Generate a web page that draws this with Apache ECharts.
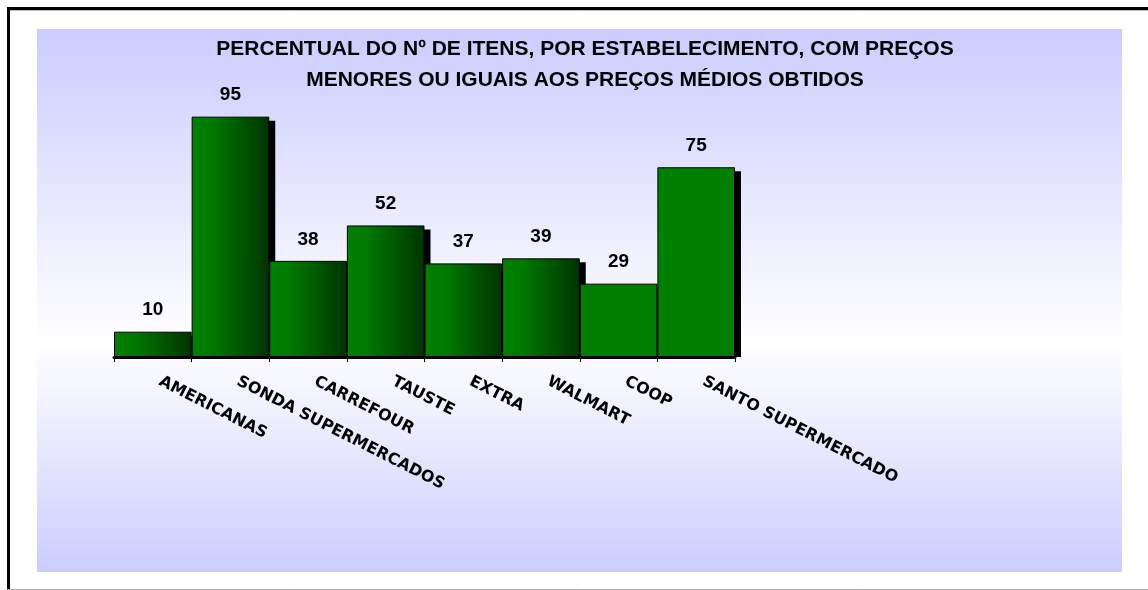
<!DOCTYPE html>
<html>
<head>
<meta charset="utf-8">
<script src="https://cdn.jsdelivr.net/npm/echarts@6/dist/echarts.min.js"></script>
<style>
  html, body { margin: 0; padding: 0; background: #fff; }
  #chart { width: 1148px; height: 590px; }
</style>
</head>
<body>
<div id="chart"></div>
<script>
// dados
const categories = ['AMERICANAS', 'SONDA SUPERMERCADOS', 'CARREFOUR', 'TAUSTE', 'EXTRA', 'WALMART', 'COOP', 'SANTO SUPERMERCADO']
const values = [10, 95, 38, 52, 37, 39, 29, 75]
// as duas últimas barras não têm degradê
const flatBars = ['COOP', 'SANTO SUPERMERCADO']
const titleLines = ['PERCENTUAL DO Nº DE ITENS, POR ESTABELECIMENTO, COM PREÇOS', 'MENORES OU IGUAIS AOS PREÇOS MÉDIOS OBTIDOS']

const chart = echarts.init(document.getElementById('chart'))

const gradGreen = new echarts.graphic.LinearGradient(0, 0, 1, 0, [
  { offset: 0, color: '#008000' },
  { offset: 0.25, color: '#007a00' },
  { offset: 1, color: '#003300' },
])

const barData = values.map((v, i) => ({
  value: v,
  itemStyle: {
    color: flatBars.includes(categories[i]) ? '#008000' : gradGreen,
  },
}))

chart.setOption({
  animation: false,
  title: {
    text: titleLines.join('\n'),
    left: 580,
    top: 29,
    textAlign: 'center',
    textStyle: {
      fontFamily: 'Liberation Sans',
      fontSize: 21,
      fontWeight: 'bold',
      color: '#000',
      lineHeight: 31,
    },
  },
  graphic: [
    // fundo em degradê
    {
      type: 'rect',
      z: -10,
      shape: { x: 37, y: 29, width: 1085, height: 543 },
      style: {
        fill: new echarts.graphic.LinearGradient(0, 0, 0, 1, [
          { offset: 0, color: '#ccccff' },
          { offset: 0.58, color: '#ffffff' },
          { offset: 1, color: '#ccccff' },
        ]),
      },
    },
    // moldura
    { type: 'line', z: -5, shape: { x1: 7, y1: 8.5, x2: 1148, y2: 8.5 }, style: { stroke: '#000', lineWidth: 3 } },
    { type: 'line', z: -5, shape: { x1: 7, y1: 10.5, x2: 1148, y2: 10.5 }, style: { stroke: '#bbb', lineWidth: 1 } },
    { type: 'line', z: -5, shape: { x1: 8.5, y1: 7, x2: 8.5, y2: 590 }, style: { stroke: '#000', lineWidth: 3 } },
    { type: 'line', z: -5, shape: { x1: 7, y1: 589.5, x2: 1148, y2: 589.5 }, style: { stroke: '#aaa', lineWidth: 1 } },
  ],
  grid: {
    left: 114,
    right: 413,
    top: 104,
    bottom: 233,
  },
  xAxis: {
    type: 'category',
    data: categories,
    axisLine: { show: true, lineStyle: { color: '#000', width: 3 } },
    axisTick: { show: true, length: 5, lineStyle: { color: '#000', width: 1 } },
    axisLabel: {
      interval: 0,
      rotate: -27,
      margin: 20,
      padding: [0, 0, 0, 8],
      color: '#000',
      fontFamily: 'DejaVu Sans',
      fontWeight: 'bold',
      fontSize: 16,
    },
  },
  yAxis: {
    type: 'value',
    min: 0,
    max: 100,
    show: false,
    splitLine: { show: false },
  },
  series: [
    {
      // sombra preta deslocada à direita de cada barra
      type: 'custom',
      z: 1,
      data: values,
      renderItem(params, api) {
        const top = api.coord([api.value(0), api.value(1)])
        const base = api.coord([api.value(0), 0])
        const w = api.size([1, 0])[0]
        return {
          type: 'rect',
          shape: { x: top[0] - w / 2 + 6, y: top[1] + 4, width: w, height: base[1] - top[1] - 4 },
          style: { fill: '#000' },
        }
      },
      encode: { x: 0, y: 1 },
    },
    {
      type: 'bar',
      z: 2,
      data: barData,
      barCategoryGap: 0,
      itemStyle: {
        borderColor: '#000',
        borderWidth: 1,
      },
      label: {
        show: true,
        position: 'top',
        distance: 12,
        color: '#000',
        fontFamily: 'Liberation Sans',
        fontWeight: 'bold',
        fontSize: 19,
      },
    },
  ],
})
</script>
</body>
</html>
